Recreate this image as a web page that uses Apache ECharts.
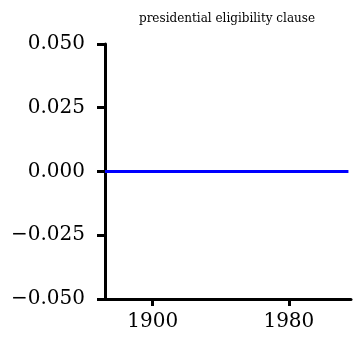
<!DOCTYPE html>
<html>
<head>
<meta charset="utf-8">
<script src="https://cdn.jsdelivr.net/npm/echarts@6/dist/echarts.min.js"></script>
<style>html,body{margin:0;padding:0;background:#fff}#c{width:356px;height:346px}</style>
</head>
<body>
<div id="c"></div>
<script>
var titleText = 'presidential eligibility clause';
var years = [1872, 1900, 1950, 2000, 2015];
var values = [0, 0, 0, 0, 0];
var xTicks = [1900, 1980];
var yTicks = [-0.05, -0.025, 0, 0.025, 0.05];

var chart = echarts.init(document.getElementById('c'), null, {renderer: 'canvas'});
var font = 'DejaVu Serif';
chart.setOption({
  animation: false,
  title: {
    text: titleText, left: 222, top: 8, textAlign: 'center',
    textStyle: {fontFamily: font, fontSize: 12, fontWeight: 'normal', color: '#000'}
  },
  grid: {left: 105, right: 5, top: 44, bottom: 47, containLabel: false},
  xAxis: {
    type: 'value', min: 1872, max: 2016.5,
    splitLine: {show: false},
    axisLine: {onZero: false, lineStyle: {color: '#000', width: 3}},
    axisTick: {customValues: xTicks, length: 7, lineStyle: {color: '#000', width: 3}},
    axisLabel: {customValues: xTicks, margin: 13, fontFamily: font, fontSize: 20, color: '#000',
      formatter: function (v) { return String(v); }}
  },
  yAxis: {
    type: 'value', min: -0.05, max: 0.05, interval: 0.025,
    splitLine: {show: false},
    axisLine: {show: true, lineStyle: {color: '#000', width: 3}},
    axisTick: {show: true, length: 8, lineStyle: {color: '#000', width: 3}},
    axisLabel: {
      margin: 20, fontFamily: font, fontSize: 20, color: '#000',
      formatter: function (v) {
        var s = Math.abs(v).toFixed(3);
        return v < -1e-9 ? '\u2212' + s : s;
      }
    }
  },
  series: [{
    type: 'line', data: years.map(function (y, i) { return [y, values[i]]; }),
    showSymbol: false, lineStyle: {color: '#0000ff', width: 3}
  }]
});
</script>
</body>
</html>
